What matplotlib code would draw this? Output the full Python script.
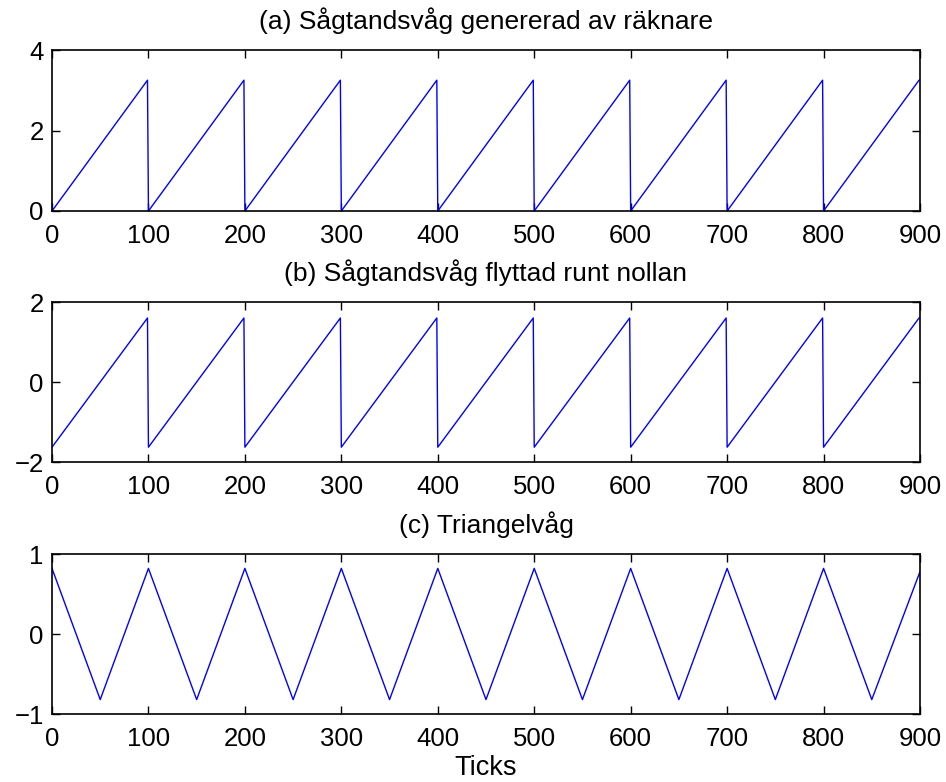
import matplotlib
matplotlib.use("Agg")
import matplotlib.pyplot as plt

plt.rcParams['font.family'] = ['Liberation Sans', 'DejaVu Sans']

titles = ["(a) Sågtandsvåg genererad av räknare",
          "(b) Sågtandsvåg flyttad runt nollan",
          "(c) Triangelvåg"]
xticks = [0, 100, 200, 300, 400, 500, 600, 700, 800, 900]

# (a) sawtooth vertices
saw_x = [0, 99, 100, 199, 200, 299, 300, 399, 400, 499, 500, 599, 600, 699, 700, 799, 800, 899, 900]
saw_y = [0.0, 3.25, 0.0, 3.25, 0.0, 3.25, 0.0, 3.25, 0.0, 3.25, 0.0, 3.25, 0.0, 3.25, 0.0, 3.25, 0.0, 3.25, 3.25]

# (b) shifted sawtooth vertices
shift_x = [0, 99, 100, 199, 200, 299, 300, 399, 400, 499, 500, 599, 600, 699, 700, 799, 800, 899, 900]
shift_y = [-1.63, 1.6, -1.63, 1.6, -1.63, 1.6, -1.63, 1.6, -1.63, 1.6, -1.63, 1.6, -1.63, 1.6, -1.63, 1.6, -1.63, 1.6, 1.6]

# (c) triangle vertices
tri_x = [0, 50, 100, 150, 200, 250, 300, 350, 400, 450, 500, 550, 600, 650, 700, 750, 800, 850, 900]
tri_y = [0.82, -0.82, 0.82, -0.82, 0.82, -0.82, 0.82, -0.82, 0.82, -0.82, 0.82, -0.82, 0.82, -0.82, 0.82, -0.82, 0.82, -0.82, 0.78]

ylims = [(0, 4), (-2, 2), (-1, 1)]
yticks = [[0, 2, 4], [-2, 0, 2], [-1, 0, 1]]
ytick_labels = [["0", "2", "4"], ["\u22122", "0", "2"], ["\u22121", "0", "1"]]

fig = plt.figure(figsize=(9.46, 7.82), dpi=100)
W, H = 946, 782
boxes = [(52, 50, 920, 211), (52, 302, 920, 462), (52, 554, 920, 714)]
data = [(saw_x, saw_y), (shift_x, shift_y), (tri_x, tri_y)]
for i, (l, t, r, b) in enumerate(boxes):
    ax = fig.add_axes([l / W, 1 - b / H, (r - l) / W, (b - t) / H])
    x, y = data[i]
    ax.plot(x, y, color='#0000ff', lw=1.0)
    ax.set_xlim(0, 900)
    ax.set_ylim(*ylims[i])
    ax.set_xticks(xticks)
    ax.set_xticklabels([str(v) for v in xticks])
    ax.set_yticks(yticks[i])
    ax.set_yticklabels(ytick_labels[i])
    ax.tick_params(direction='in', top=True, right=True, length=6, width=1,
                   labelsize=18.5)
    ax.tick_params(axis='x', pad=9.5)
    ax.tick_params(axis='y', pad=6)
    for s in ax.spines.values():
        s.set_linewidth(1.2)
    ax.set_title(titles[i], fontsize=19, pad=15)
    if i == 2:
        ax.set_xlabel("Ticks", fontsize=19.5, labelpad=3)

fig.savefig("out.png", dpi=100)
